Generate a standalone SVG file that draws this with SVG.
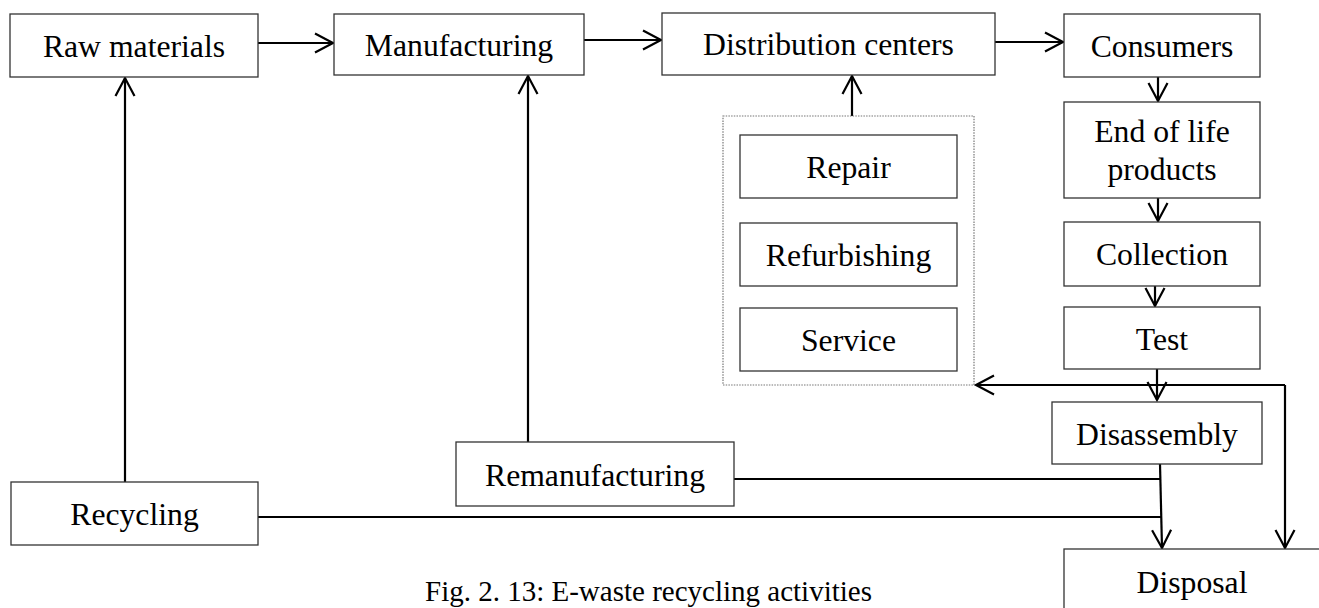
<svg xmlns="http://www.w3.org/2000/svg" width="1319" height="608" viewBox="0 0 1319 608">
<style>
.box{fill:#fff;stroke:#333;stroke-width:1.3}
.grp{fill:none;stroke:#777;stroke-width:1.2;stroke-dasharray:1.5 1.2}
.t{font-family:"Liberation Serif","Times New Roman",serif;font-size:31.7px;fill:#000;text-anchor:middle}
.cap{font-family:"Liberation Serif","Times New Roman",serif;font-size:29px;fill:#000}
.c{fill:none;stroke:#000;stroke-width:2.2}
.a{marker-end:url(#arr)}
</style>
<defs>
<marker id="arr" markerUnits="userSpaceOnUse" markerWidth="24" markerHeight="24" viewBox="-20 -12 24 24" refX="0" refY="0" orient="auto" overflow="visible">
<path d="M-18,-9.5 L0,0 L-18,9.5" fill="none" stroke="#000" stroke-width="2.2"/>
</marker>
</defs>
<rect width="1319" height="608" fill="#fff"/>
<g id="connectors">
<path class="c a" d="M258,43 H333"/>
<path class="c a" d="M584,40 H661"/>
<path class="c a" d="M995,42 H1063"/>
<path class="c a" d="M1158,77 V101"/>
<path class="c a" d="M1158,198 V221"/>
<path class="c a" d="M1155,286 V306"/>
<path class="c a" d="M1157,369 V400"/>
<path class="c a" d="M1160,464 L1162,548"/>
<path class="c" d="M734,479 H1161"/>
<path class="c" d="M258,517 H1161"/>
<path class="c a" d="M1285,385 H976"/>
<path class="c a" d="M1285,385 V548"/>
<path class="c a" d="M125,482 V78"/>
<path class="c a" d="M528,442 V76"/>
<path class="c a" d="M852,116 V76"/>
</g>
<g id="raw-materials"><rect class="box" x="10" y="14" width="248" height="63"/><text class="t" x="134" y="56.5">Raw materials</text></g>
<g id="manufacturing"><rect class="box" x="334" y="14" width="250" height="61"/><text class="t" x="459" y="55.5">Manufacturing</text></g>
<g id="distribution-centers"><rect class="box" x="662" y="13" width="333" height="62"/><text class="t" x="828.5" y="55">Distribution centers</text></g>
<g id="consumers"><rect class="box" x="1064" y="14" width="196" height="63"/><text class="t" x="1162" y="56.5">Consumers</text></g>
<g id="end-of-life-products"><rect class="box" x="1064" y="102" width="196" height="96"/><text class="t" x="1162" y="141.7">End of life</text><text class="t" x="1162" y="180">products</text></g>
<g id="collection"><rect class="box" x="1064" y="222" width="196" height="64"/><text class="t" x="1162" y="265">Collection</text></g>
<g id="test"><rect class="box" x="1064" y="307" width="196" height="62"/><text class="t" x="1162" y="350">Test</text></g>
<g id="disassembly"><rect class="box" x="1052" y="402" width="210" height="62"/><text class="t" x="1157" y="444.5">Disassembly</text></g>
<g id="disposal"><rect class="box" x="1064" y="549" width="258" height="64"/><text class="t" x="1192" y="593">Disposal</text></g>
<g id="reuse-group"><rect class="grp" x="723" y="116" width="251" height="269"/></g>
<g id="repair"><rect class="box" x="740" y="135" width="217" height="63"/><text class="t" x="848.5" y="177.5">Repair</text></g>
<g id="refurbishing"><rect class="box" x="740" y="223" width="217" height="63"/><text class="t" x="848.5" y="265.5">Refurbishing</text></g>
<g id="service"><rect class="box" x="740" y="308" width="217" height="63"/><text class="t" x="848.5" y="350.5">Service</text></g>
<g id="remanufacturing"><rect class="box" x="456" y="442" width="278" height="64"/><text class="t" x="595" y="485.5">Remanufacturing</text></g>
<g id="recycling"><rect class="box" x="11" y="482" width="247" height="63"/><text class="t" x="134.5" y="524.5">Recycling</text></g>
<text class="cap" x="425" y="601">Fig. 2. 13: E-waste recycling activities</text>
</svg>
